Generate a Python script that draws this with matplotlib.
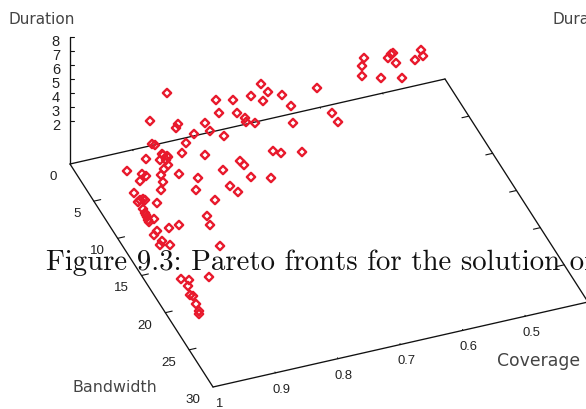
import matplotlib
matplotlib.use('Agg')
import matplotlib.pyplot as plt
import numpy as np

# tick values of the three axes
bandwidth_ticks = [0, 5, 10, 15, 20, 25, 30]
coverage_ticks = [1, 0.9, 0.8, 0.7, 0.6, 0.5, 0.4]
duration_ticks = [2, 3, 4, 5, 6, 7, 8]

# pareto front in its projected (screen) coordinates
front_x = [167, 150, 178, 176, 216, 233, 251, 261, 268, 282, 263, 291, 219, 237, 245, 246, 255,
           293, 205, 194, 210, 224, 186, 152, 155, 182, 205, 146, 163, 168, 160, 166, 168, 164,
           161, 163, 127, 142, 146, 140, 134, 161, 179, 198, 196, 223, 240, 244, 251, 271, 273,
           281, 230, 238, 215, 157, 140, 143, 145, 138,
           364, 362, 362, 381, 402, 393, 391, 388, 396, 421, 423, 415, 317, 332, 338, 302,
           143, 145, 146, 147, 148, 149, 154, 179, 169, 207, 210, 157, 154, 162, 160, 170,
           220, 181, 189, 188, 193, 190, 196, 199, 199, 209, 162, 167]
front_y = [94, 122, 125, 129, 101, 101, 97, 85, 93, 96, 102, 107, 114, 114, 119, 123, 124,
           124, 124, 135, 132, 137, 144, 145, 146, 154, 156, 160, 156, 158, 161, 161, 166, 170,
           176, 183, 172, 175, 177, 182, 194, 191, 175, 179, 191, 171, 162, 166, 178, 179, 152,
           154, 187, 193, 201, 204, 201, 200, 201, 203,
           59, 67, 77, 79, 79, 54, 55, 59, 64, 51, 57, 61, 89, 114, 123, 153,
           210, 214, 216, 218, 221, 223, 220, 226, 229, 217, 226, 232, 236, 242, 246, 246,
           247, 280, 281, 287, 297, 296, 305, 312, 315, 278, 155, 157]

# corners of the base plane and the duration axis on the page
origin = np.array([70.0, 165.0])
bw_step = np.array([143.0, 223.0]) / 30
cov_step = np.array([375.0, -85.0]) / 0.6


def base_point(bw, cov):
    return origin + bw * bw_step + (1 - cov) * cov_step


def segment(ax, p, q, lw=0.95):
    ax.plot([p[0], q[0]], [p[1], q[1]], color='#111111', lw=lw, solid_capstyle='round')


fig = plt.figure(figsize=(5.86, 4.10), dpi=100)
ax = fig.add_axes([0, 0, 1, 1])
ax.set_xlim(0, 586)
ax.set_ylim(410, 0)
ax.axis('off')

# base plane frame
a = base_point(0, 1)
b = base_point(30, 1)
c = base_point(30, 0.4)
d = base_point(0, 0.4)
for p, q in [(a, b), (b, c), (c, d), (d, a)]:
    segment(ax, p, q)

# duration axis
segment(ax, (70, 38), (70, 165))
for dur in duration_ticks:
    y = 38 + 14 * (8 - dur)
    segment(ax, (70, y), (74, y), lw=0.8)
    ax.text(60, y + 3.5, str(dur), ha='right', va='center', fontsize=10.5,
            family='Liberation Sans', color='#222222')

# bandwidth ticks on both sides of the base
for bw in bandwidth_ticks[1:-1]:
    p = base_point(bw, 1)
    segment(ax, p, p + 0.011 * cov_step, lw=0.8)
    q = base_point(bw, 0.4)
    segment(ax, q, q - 0.011 * cov_step, lw=0.8)
for bw in bandwidth_ticks:
    p = base_point(bw, 1)
    ax.text(p[0] - 13, p[1] + 12, str(bw), ha='right', va='center', fontsize=9.6,
            family='Liberation Sans', color='#222222')

# coverage ticks on front and back edges
for cov in coverage_ticks[1:-1]:
    p = base_point(30, cov)
    segment(ax, p, p - 0.12 * bw_step, lw=0.7)
    q = base_point(0, cov)
    segment(ax, q, q + 0.12 * bw_step, lw=0.7)
for cov in coverage_ticks:
    p = base_point(30, cov)
    label = '1' if cov == 1 else f'{cov:.1f}'
    ax.text(p[0] + 6, p[1] + 16, label, ha='center', va='center', fontsize=9.4,
            family='Liberation Sans', color='#222222')

ax.scatter(front_x, front_y, marker='D', s=18, facecolors='none', edgecolors='#e8192c',
           linewidths=1.7, zorder=3, clip_on=False)

# axis titles
label_style = dict(family='DejaVu Sans', color='#444444', va='center', ha='left')
ax.text(8, 20, 'Duration', fontsize=11, **label_style)
ax.text(553, 20, 'Duration', fontsize=11, **label_style)
ax.text(73, 388, 'Bandwidth', fontsize=11.4, **label_style)
ax.text(497, 361, 'Coverage', fontsize=12.4, **label_style)

# caption of the page the chart was clipped from
ax.text(46, 270, 'Figure 9.3: Pareto fronts for the solution of', ha='left', va='baseline',
        fontsize=20.8, family='cmr10', color='#111111', zorder=4)

fig.savefig('out.png', dpi=100)
